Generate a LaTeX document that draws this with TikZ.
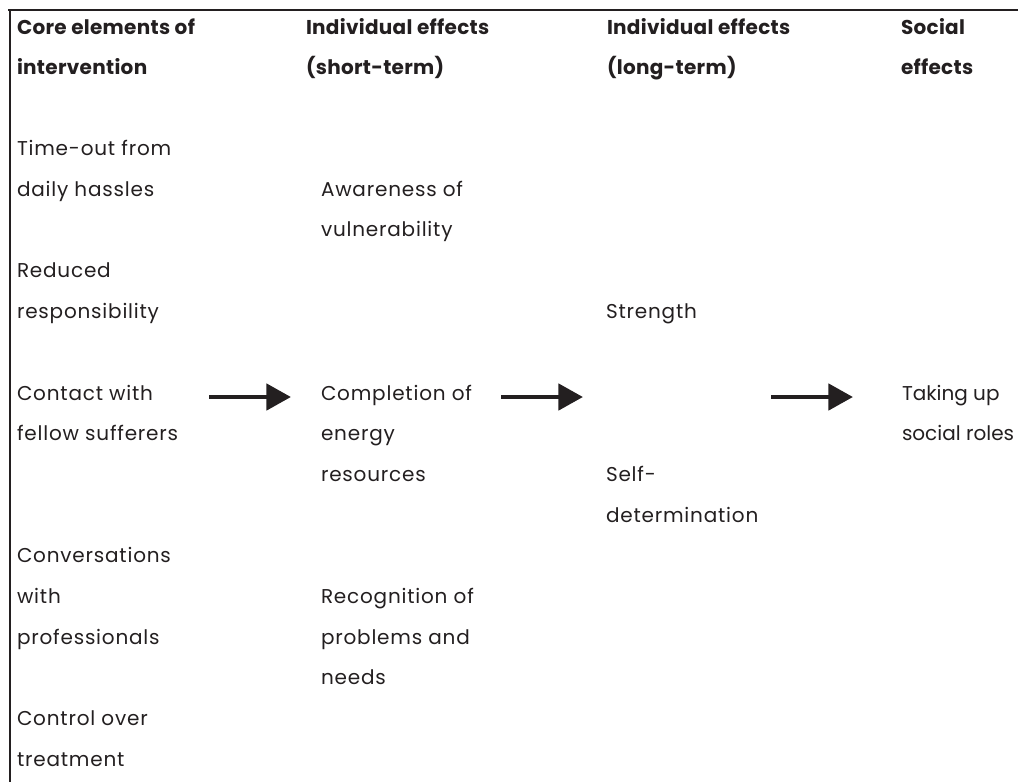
\documentclass[tikz,border=0pt]{standalone}
\usepackage{fontspec}
\setmainfont{Poppins}[LetterSpace=4,BoldFeatures={LetterSpace=1.5}]
\usetikzlibrary{arrows.meta}
\definecolor{ink}{RGB}{35,31,32}
\begin{document}
\begin{tikzpicture}[x=0.75pt,y=-0.75pt,
  txt/.style={anchor=base west,inner sep=0pt,outer sep=0pt,text=ink,font=\fontsize{15}{18}\selectfont},
  tight/.style={txt,font=\fontsize{15}{18}\selectfont\addfontfeatures{LetterSpace=0}},
  hdr/.style={txt,font=\fontsize{15}{18}\selectfont\bfseries},
  rule/.style={draw=ink,line width=2pt},
  flow/.style={draw=ink,line width=3.7pt,-{Triangle[length=18.5pt,width=19.5pt]}}]
\useasboundingbox (0,0) rectangle (1018,782);
\draw[rule] (8,10) -- (1018,10);
\draw[rule] (10,9) -- (10,782);
% headers
\node[hdr] (h1a) at (17,34) {Core elements of};
\node[hdr] (h1b) at (17,74) {intervention};
\node[hdr] (h2a) at (306,34) {Individual effects};
\node[hdr] (h2b) at (306,74) {(short-term)};
\node[hdr] (h3a) at (607,34) {Individual effects};
\node[hdr] (h3b) at (607,74) {(long-term)};
\node[hdr] (h4a) at (901,34) {Social};
\node[hdr] (h4b) at (901,74) {effects};
% column 1
\node[txt] (c1a) at (17,155) {Time-out from};
\node[txt] (c1b) at (17,196) {daily hassles};
\node[txt] (c1c) at (17,277) {Reduced};
\node[txt] (c1d) at (17,318) {responsibility};
\node[txt] (c1e) at (17,400) {Contact with};
\node[txt] (c1f) at (17,440) {fellow sufferers};
\node[txt] (c1g) at (17,562) {Conversations};
\node[txt] (c1h) at (17,603) {with};
\node[txt] (c1i) at (17,644) {professionals};
\node[txt] (c1j) at (17,725) {Control over};
\node[txt] (c1k) at (17,766) {treatment};
% column 2
\node[txt] (c2a) at (321,196) {Awareness of};
\node[txt] (c2b) at (321,236) {vulnerability};
\node[txt] (c2c) at (321,400) {Completion of};
\node[txt] (c2d) at (321,440) {energy};
\node[txt] (c2e) at (321,481) {resources};
\node[txt] (c2f) at (321,603) {Recognition of};
\node[txt] (c2g) at (321,644) {problems and};
\node[txt] (c2h) at (321,684) {needs};
% column 3
\node[txt] (c3a) at (606,318) {Strength};
\node[txt] (c3b) at (606,481) {Self-};
\node[txt] (c3c) at (606,522) {determination};
% column 4
\node[tight] (c4a) at (902,400) {Taking up};
\node[tight] (c4b) at (902,440) {social roles};
% arrows
\coordinate (a1s) at (209,397);
\coordinate (a1e) at (291,397);
\coordinate (a2s) at (501,397);
\coordinate (a2e) at (583,397);
\coordinate (a3s) at (771,397);
\coordinate (a3e) at (853,397);
\draw[flow] (a1s) -- (a1e);
\draw[flow] (a2s) -- (a2e);
\draw[flow] (a3s) -- (a3e);
\end{tikzpicture}
\end{document}
